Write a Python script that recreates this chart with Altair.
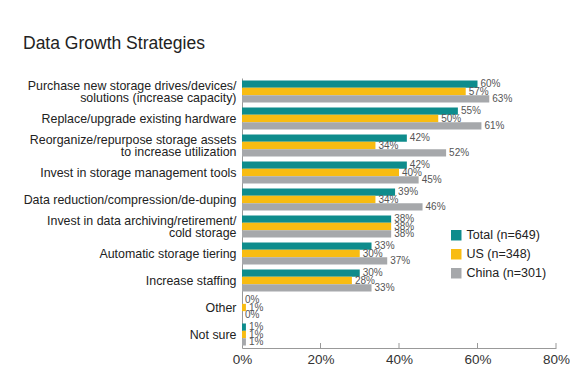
import altair as alt
import pandas as pd

categories = [
    "Purchase new storage drives/devices/|solutions (increase capacity)",
    "Replace/upgrade existing hardware",
    "Reorganize/repurpose storage assets|to increase utilization",
    "Invest in storage management tools",
    "Data reduction/compression/de-duping",
    "Invest in data archiving/retirement/|cold storage",
    "Automatic storage tiering",
    "Increase staffing",
    "Other",
    "Not sure",
]
series = ["Total (n=649)", "US (n=348)", "China (n=301)"]
total = [60, 55, 42, 42, 39, 38, 33, 30, 0, 1]
us = [57, 50, 34, 40, 34, 38, 30, 28, 1, 1]
china = [63, 61, 52, 45, 46, 38, 37, 33, 0, 1]
colors = ["#0E8C8C", "#F8BC12", "#A6A8AB"]
ticks = [20, 40, 60, 80]

rows = []
for i, c in enumerate(categories):
    for s, vals in zip(series, [total, us, china]):
        rows.append({"cat": c, "series": s, "value": vals[i], "label": f"{vals[i]}%"})
df = pd.DataFrame(rows)

W, H = 314, 270
font = "Liberation Sans"

y_enc = alt.Y(
    "cat:N", sort=categories, title=None,
    scale=alt.Scale(paddingInner=0.18, paddingOuter=0.09),
    axis=alt.Axis(
        labelExpr="split(datum.label, '|')", labelFontSize=12.4, labelColor="#222",
        labelFont=font, labelPadding=6, ticks=False, domainColor="#999",
        labelLineHeight=12,
        labelOffset={"condition": {"test": "indexof(datum.label, '|') >= 0", "value": -6}, "value": 0},
        minExtent=219, maxExtent=219, labelLimit=300,
    ),
)
yoff = alt.YOffset("series:N", sort=series, scale=alt.Scale(paddingInner=0.0))
x_enc = alt.X(
    "value:Q", title=None,
    scale=alt.Scale(domain=[0, 80], nice=False),
    axis=alt.Axis(values=[0, 20, 40, 60, 80], format=".0f", labelExpr="datum.value + '%'",
                  grid=False, ticks=False, domainColor="#999", labelFontSize=13.5,
                  labelColor="#333", labelFont=font, labelPadding=4, labelFlush=False),
)
color = alt.Color(
    "series:N", sort=series, scale=alt.Scale(domain=series, range=colors),
    legend=alt.Legend(title=None, orient="none", legendX=208, legendY=151,
                      symbolType="square", symbolSize=110, symbolStrokeWidth=0,
                      labelFontSize=12.5, labelFont=font, labelColor="#222",
                      rowPadding=6, symbolOpacity=1),
)

base = alt.Chart(df).encode(y=y_enc, yOffset=yoff, x=x_enc)
bars = base.mark_bar(size=7.3).encode(color=color)
text = base.mark_text(align="left", dx=3, fontSize=10, font=font, color="#555").encode(text="label:N")

tick_df = pd.DataFrame({"t": ticks})
tick_rules = alt.Chart(tick_df).mark_rule(color="#999").encode(
    x=alt.X("t:Q", scale=alt.Scale(domain=[0, 80], nice=False)),
    y=alt.value(H - 5), y2=alt.value(H),
)

chart = alt.layer(bars, text, tick_rules).properties(
    width=W, height=H,
    padding={"left": 15, "top": 26, "right": 0, "bottom": 5},
    title=alt.TitleParams("Data Growth Strategies", anchor="start", fontSize=17.5,
                          font=font, fontWeight="normal", color="#222", offset=26),
).configure_view(stroke=None)

chart.save("out.html", embed_options={"renderer": "svg", "actions": False})
